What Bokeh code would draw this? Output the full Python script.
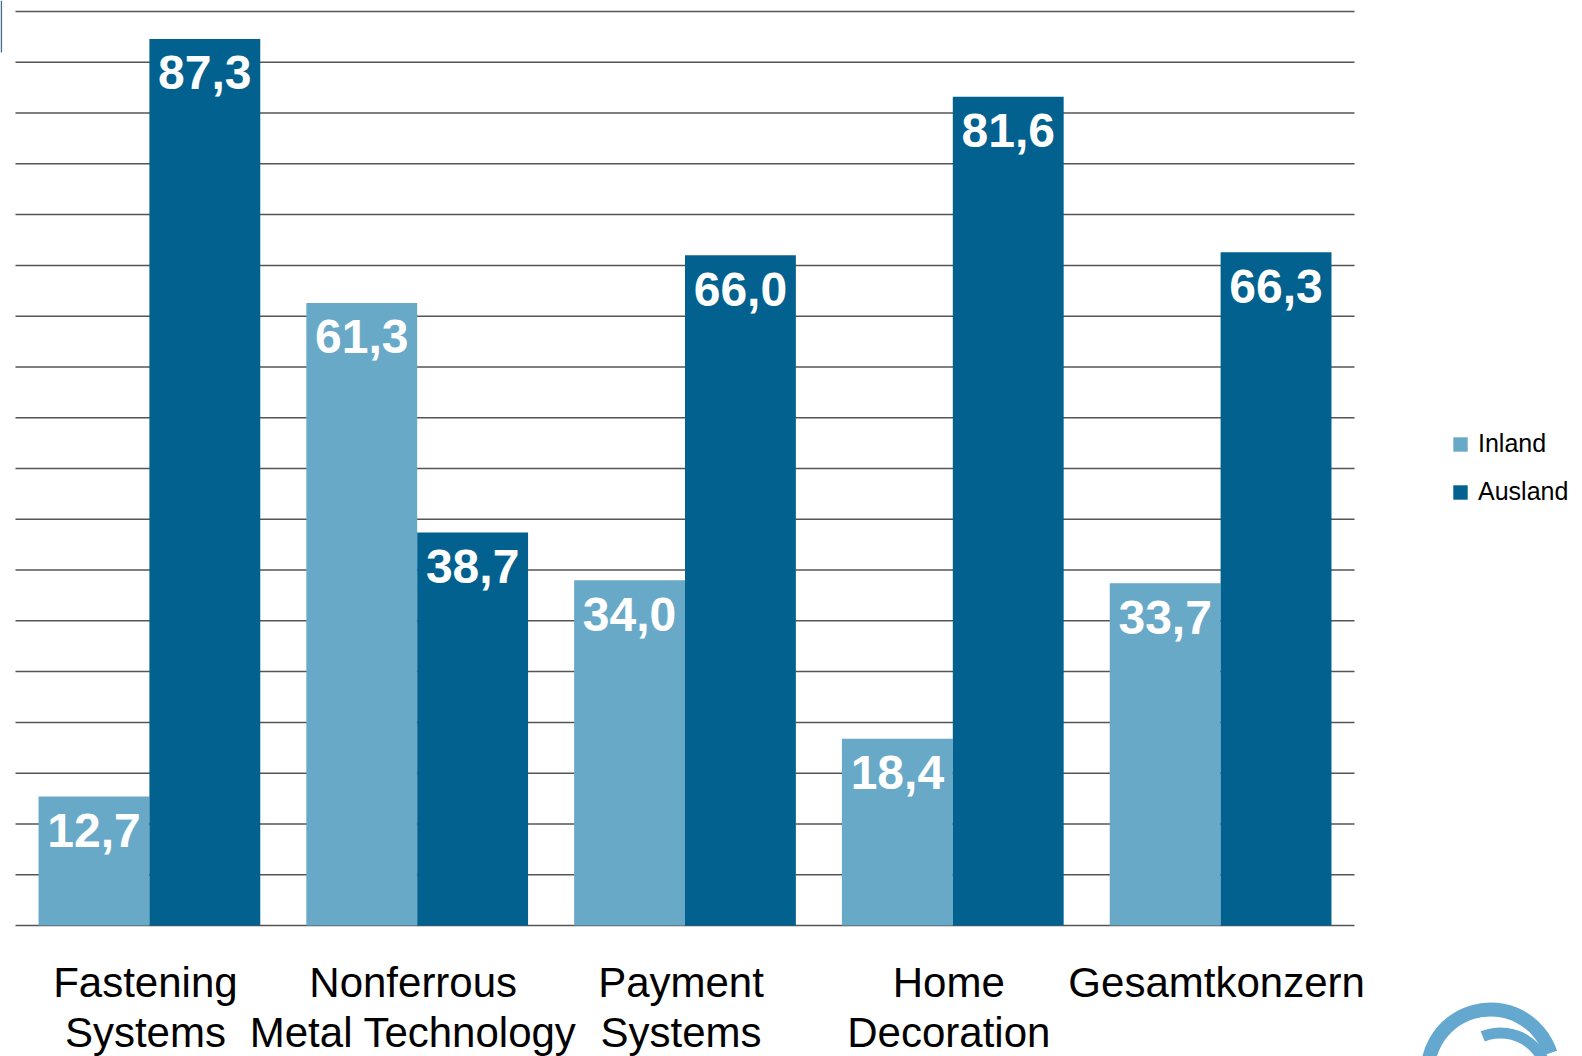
import numpy as np
from bokeh.plotting import figure
from bokeh.models import ColumnDataSource, Range1d, Legend, LegendItem
from bokeh.core.properties import value
from bokeh.embed import file_html
from bokeh.resources import INLINE

categories = ["Fastening\nSystems", "Nonferrous\nMetal Technology", "Payment\nSystems",
              "Home\nDecoration", "Gesamtkonzern"]
inland = [12.7, 61.3, 34.0, 18.4, 33.7]
ausland = [87.3, 38.7, 66.0, 81.6, 66.3]
inland_labels = ["12,7", "61,3", "34,0", "18,4", "33,7"]
ausland_labels = ["87,3", "38,7", "66,0", "81,6", "66,3"]
y_ticks = list(range(0, 95, 5))

C_IN = "#69a9c8"
C_AUS = "#02618e"
C_LOGO = "#64a8cf"
FONT = "Liberation Sans"

n = len(categories)
centers = np.arange(n) + 0.5
bw = 0.414

# page geometry (pixels): plot area 15..1354 horizontally, value 0 at y=925, 90 at y=11
W, H = 1582, 1056
X0_PX, X1_PX, Y0_PX, Y90_PX = 15, 1354, 925, 11
ppx = (X1_PX - X0_PX) / n          # px per category
ppy = (Y0_PX - Y90_PX) / 90.0      # px per value unit


def dx(px):
    return (px - X0_PX) / ppx


def dy(py):
    return (Y0_PX - py) / ppy


src = ColumnDataSource(dict(x_in=centers - bw / 2, x_aus=centers + bw / 2, xc=centers,
                            cat=categories, inland=inland, ausland=ausland,
                            il=inland_labels, al=ausland_labels,
                            zero=[0] * n))

p = figure(x_range=Range1d(dx(0), dx(W)), y_range=Range1d(dy(H), dy(0)),
           width=W, height=H, output_backend="svg", toolbar_location=None,
           min_border_left=0, min_border_right=0, min_border_top=0, min_border_bottom=0)
p.outline_line_color = None
p.background_fill_color = "white"
p.xaxis.visible = False
p.yaxis.visible = False
p.xgrid.visible = False
p.ygrid.visible = False

# horizontal grid lines, spanning only the category area
p.segment(x0=[0] * len(y_ticks), x1=[n] * len(y_ticks), y0=y_ticks, y1=y_ticks,
          line_color="#555555", line_width=1.5)

r_in = p.vbar(x="x_in", top="inland", width=bw, bottom=0,
              source=src, fill_color=C_IN, line_color=None)
r_aus = p.vbar(x="x_aus", top="ausland", width=bw, bottom=0,
               source=src, fill_color=C_AUS, line_color=None)

common = dict(text_color="white", text_font=value(FONT), text_font_style="bold",
              text_font_size="48px", text_align="center", text_baseline="alphabetic",
              y_offset=34, source=src)
p.text(x="x_in", y="inland", text="il", **common)
p.text(x="x_aus", y="ausland", text="al", **common)

# category labels
p.text(x="xc", y="zero", text="cat", source=src, text_color="black",
       text_font=value(FONT), text_font_size="42px", text_align="center",
       text_baseline="top", text_line_height=1.08, y_offset=33, x_offset=-4)

# small decorative edge mark (top-left) and logo fragment (bottom-right)
p.segment(x0=[dx(0.8)], x1=[dx(0.8)], y0=[dy(0)], y1=[dy(52)],
          line_color="#4a6f90", line_width=1.6)
p.annular_wedge(x=[dx(1490)], y=[dy(1072)], inner_radius=56, outer_radius=70,
                inner_radius_units="screen", outer_radius_units="screen",
                start_angle=np.radians(18), end_angle=np.radians(195),
                fill_color=C_LOGO, line_color=None)
p.annular_wedge(x=[dx(1500)], y=[dy(1080)], inner_radius=42, outer_radius=53,
                inner_radius_units="screen", outer_radius_units="screen",
                start_angle=np.radians(-5), end_angle=np.radians(112),
                fill_color=C_LOGO, line_color=None)

legend = Legend(items=[LegendItem(label="Inland", renderers=[r_in]),
                       LegendItem(label="Ausland", renderers=[r_aus])],
                location=(1451, 550), orientation="vertical")
legend.padding = 0
legend.margin = 0
legend.border_line_color = None
legend.background_fill_alpha = 0
legend.glyph_width = 18
legend.glyph_height = 18
legend.label_height = 18
legend.label_standoff = 9
legend.spacing = 19
legend.label_text_font = FONT
legend.label_text_font_size = "25px"
legend.label_text_color = "black"
p.add_layout(legend, "center")

open("out.html", "w").write(file_html(p, INLINE))
